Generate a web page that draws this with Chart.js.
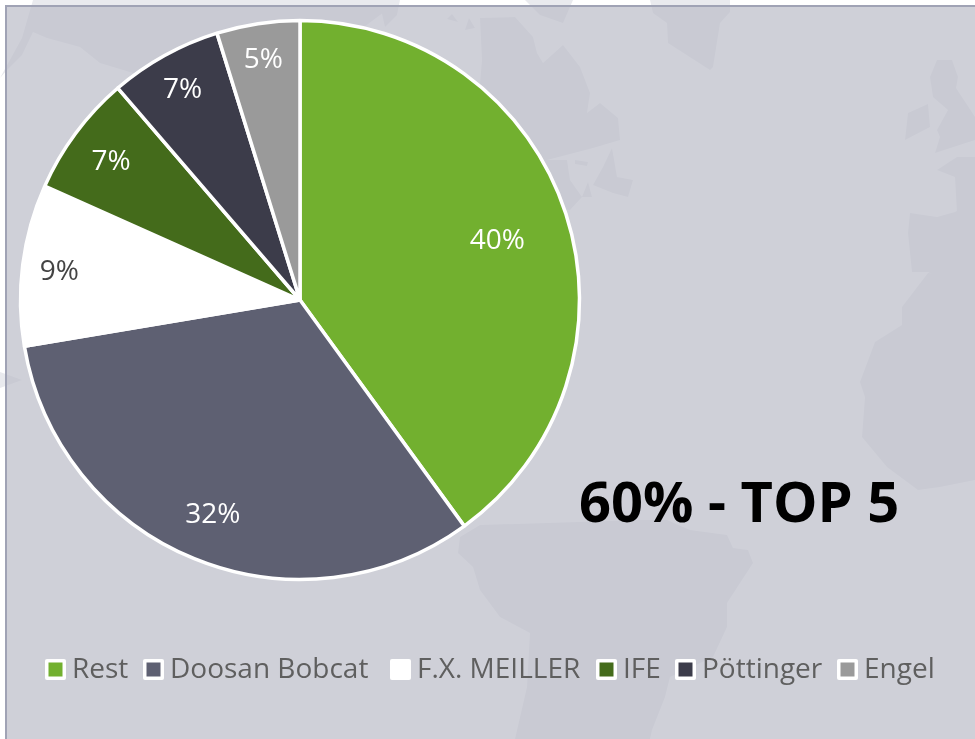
<!DOCTYPE html>
<html>
<head>
<meta charset="utf-8">
<script src="https://cdn.jsdelivr.net/npm/chart.js@4"></script>
<style>
html,body{margin:0;padding:0;background:#fff;width:975px;height:739px;overflow:hidden}
#map{position:absolute;left:0;top:0}
#panel{position:absolute;left:5px;top:5px;width:970px;height:734px;box-sizing:border-box;border-left:2px solid #a0a3b5;border-top:2px solid #a0a3b5;background:rgba(189,190,201,.72)}
#c{position:absolute;left:0;top:0}
</style>
</head>
<body>
<svg id="map" width="975" height="739" viewBox="0 0 975 739" fill="#e9eaee">
<path d="M0,78L22,38L33,0L400,0L300,75L133,73L100,63L80,47L47,38L33,32L22,55L7,70Z"/>
<path d="M380,5L400,0L397,15L385,27Z"/>
<path d="M452,14L458,22L447,19ZM469,18L475,28L465,30Z"/>
<path d="M480,18L515,17L533,37L537,53L543,63L563,45L580,67L590,93L587,113L600,103L618,118L620,140L593,148L547,160L567,160L570,180L582,197L570,210L470,200L482,60Z"/>
<path d="M612,148L617,177L633,180L628,197L613,193L593,185L603,167Z"/>
<path d="M575,160L588,162L587,166L575,164ZM588,182L592,197L582,197Z"/>
<path d="M525,0L573,0L563,23L540,15Z"/>
<path d="M650,0L730,0L730,12L720,23L713,67L710,70L668,43L667,23L653,13Z"/>
<path d="M937,60L952,60L958,77L956,88L975,117L975,140L935,153L940,137L937,130L948,110L933,97L930,77Z"/>
<path d="M928,104L930,127L905,140L908,113Z"/>
<path d="M937,170L957,157L975,157L975,215L957,213L955,177Z"/>
<path d="M910,213L937,217L955,212L975,200L975,277L943,280L928,272L912,272L908,233Z"/>
<path d="M928,273L902,307L902,325L875,342L860,382L865,397L862,437L887,467L918,490L940,487L975,480L975,275Z"/>
<path d="M480,525L640,520L667,520L690,530L727,535L733,548L748,550L753,563L727,603L727,627L713,657L670,677L665,697L652,730L650,739L515,739L527,687L530,633L500,617L480,590L473,567L458,553L460,537Z"/>
<path d="M0,372L22,380L0,388Z"/>
</svg>
<div id="panel"></div>
<canvas id="c" width="975" height="739"></canvas>
<script>
const categories = ["Rest","Doosan Bobcat","F.X. MEILLER","IFE","Pöttinger","Engel"];
const shares = [40, 32.35, 9.33, 7.02, 6.5, 4.8];
const sliceColors = ["#72b02f","#5e6072","#ffffff","#446b1b","#3c3c4a","#9a9a9a"];
const labelColors = ["#ffffff","#ffffff","#444444","#ffffff","#ffffff","#ffffff"];
const labelRadius = [0.742,0.825,0.868,0.843,0.868,0.875];
const labelDrop = [5.5,2,2.5,2.5,2.5,2];
const legendBoxX = [45,143,390,596,675,837];
const headline = "60% - TOP 5";

const overlay = {
  id:"overlay",
  afterDraw(chart){
    const ctx = chart.ctx;
    const arcs = chart.getDatasetMeta(0).data;
    ctx.save();
    ctx.textBaseline = "middle";
    ctx.textAlign = "center";
    ctx.font = '28px "Open Sans"';
    arcs.forEach((a,i)=>{
      const mid = (a.startAngle+a.endAngle)/2, r = a.outerRadius*labelRadius[i];
      ctx.fillStyle = labelColors[i];
      ctx.fillText(Math.round(shares[i])+"%", a.x+Math.cos(mid)*r, a.y+Math.sin(mid)*r+labelDrop[i]);
    });
    ctx.textAlign = "left";
    ctx.font = 'bold 56px "Open Sans"';
    ctx.fillStyle = "#000";
    ctx.fillText(headline, 579, 506);
    ctx.font = '28px "Open Sans"';
    categories.forEach((c,i)=>{
      const x = legendBoxX[i], y = 659;
      ctx.fillStyle = "#fff";
      ctx.beginPath(); ctx.roundRect(x,y,21,21,2); ctx.fill();
      ctx.fillStyle = sliceColors[i];
      ctx.fillRect(x+3.5,y+3.5,14,14);
      ctx.fillStyle = "#5f5f5f";
      ctx.fillText(c, x+27, y+11);
    });
    ctx.restore();
  }
};

new Chart(document.getElementById("c"),{
  type:"pie",
  data:{labels:categories,datasets:[{data:shares,backgroundColor:sliceColors,borderColor:"#ffffff",borderWidth:3.5,hoverOffset:0}]},
  options:{
    responsive:false,animation:false,
    radius:279.5,
    layout:{padding:{left:0,top:0,right:375,bottom:139}},
    plugins:{legend:{display:false},tooltip:{enabled:false}}
  },
  plugins:[overlay]
});
</script>
</body>
</html>
